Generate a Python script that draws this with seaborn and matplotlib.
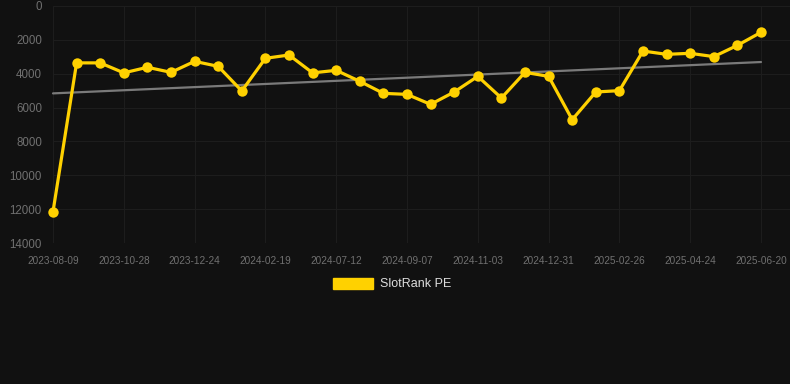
import numpy as np
import pandas as pd
import matplotlib
matplotlib.use("Agg")
import matplotlib.pyplot as plt
import matplotlib.patches as mpatches
import seaborn as sns

dates = ["2023-08-09", "2023-09-20", "2023-10-09", "2023-10-28", "2023-11-16", "2023-12-05",
         "2023-12-24", "2024-01-12", "2024-01-31", "2024-02-19", "2024-06-04", "2024-06-23",
         "2024-07-12", "2024-07-31", "2024-08-19", "2024-09-07", "2024-09-26", "2024-10-15",
         "2024-11-03", "2024-11-22", "2024-12-12", "2024-12-31", "2025-01-19", "2025-02-07",
         "2025-02-26", "2025-03-17", "2025-04-05", "2025-04-24", "2025-05-13", "2025-06-01",
         "2025-06-20"]
slotrank_pe = [12150, 3360, 3360, 3950, 3620, 3920, 3270, 3565, 5020, 3090,
               2895, 3950, 3800, 4450, 5160, 5220, 5810, 5080, 4155, 5435,
               3920, 4155, 6715, 5080, 5000, 2660, 2855, 2795, 2990, 2325,
               1555]
y_ticks = [0, 2000, 4000, 6000, 8000, 10000, 12000, 14000]
series_name = "SlotRank PE"

BG = "#111111"
GOLD = "#FFD100"
GRID = "#1d1d1d"
TICK = "#707070"

sns.set_theme(style="dark")
plt.rcParams["font.family"] = ["Liberation Sans", "DejaVu Sans"]

df = pd.DataFrame({"idx": np.arange(len(dates)), "date": dates, "value": slotrank_pe})

fig = plt.figure(figsize=(7.9, 3.84), dpi=100, facecolor=BG)
ax = fig.add_axes([53 / 790, 1 - 243 / 384, (790 - 53) / 790, (243 - 6) / 384])
ax.set_facecolor(BG)

# trend line (linear regression)
sns.regplot(data=df, x="idx", y="value", scatter=False, ci=None, truncate=True, ax=ax,
            line_kws=dict(color="#7a7a7a", lw=1.6, zorder=2))

sns.lineplot(data=df, x="idx", y="value", ax=ax, color=GOLD, lw=2.3, marker="o",
             markersize=7.5, markeredgewidth=0, zorder=3)
for ln in ax.lines:
    ln.set_clip_on(False)

step = (761 - 53) / 30
ax.set_xlim(0, 30 + (790 - 761) / step)
ax.set_ylim(14000, 0)
ax.set_yticks(y_ticks)
ax.set_yticklabels([str(v) for v in y_ticks])
xt = list(range(0, len(dates), 3))
ax.set_xticks(xt)
ax.set_xticklabels([dates[i] for i in xt])
ax.tick_params(axis="y", colors=GRID, labelcolor=TICK, labelsize=8.3, length=0, pad=8)
ax.tick_params(axis="x", colors=GRID, labelcolor=TICK, labelsize=7.2, length=6, width=0.8, pad=3)
ax.grid(True, color=GRID, lw=0.8)
for s in ax.spines.values():
    s.set_visible(False)
ax.set_xlabel("")
ax.set_ylabel("")

handle = mpatches.Patch(color=GOLD, label=series_name)
leg = fig.legend(handles=[handle], loc="center", bbox_to_anchor=(0.5 - 3 / 790, 1 - 284 / 384),
                 frameon=False, fontsize=9, handlelength=3.2, handleheight=1.0,
                 handletextpad=0.5, labelcolor="#dddddd")

fig.savefig("out.png", dpi=100, facecolor=BG)
